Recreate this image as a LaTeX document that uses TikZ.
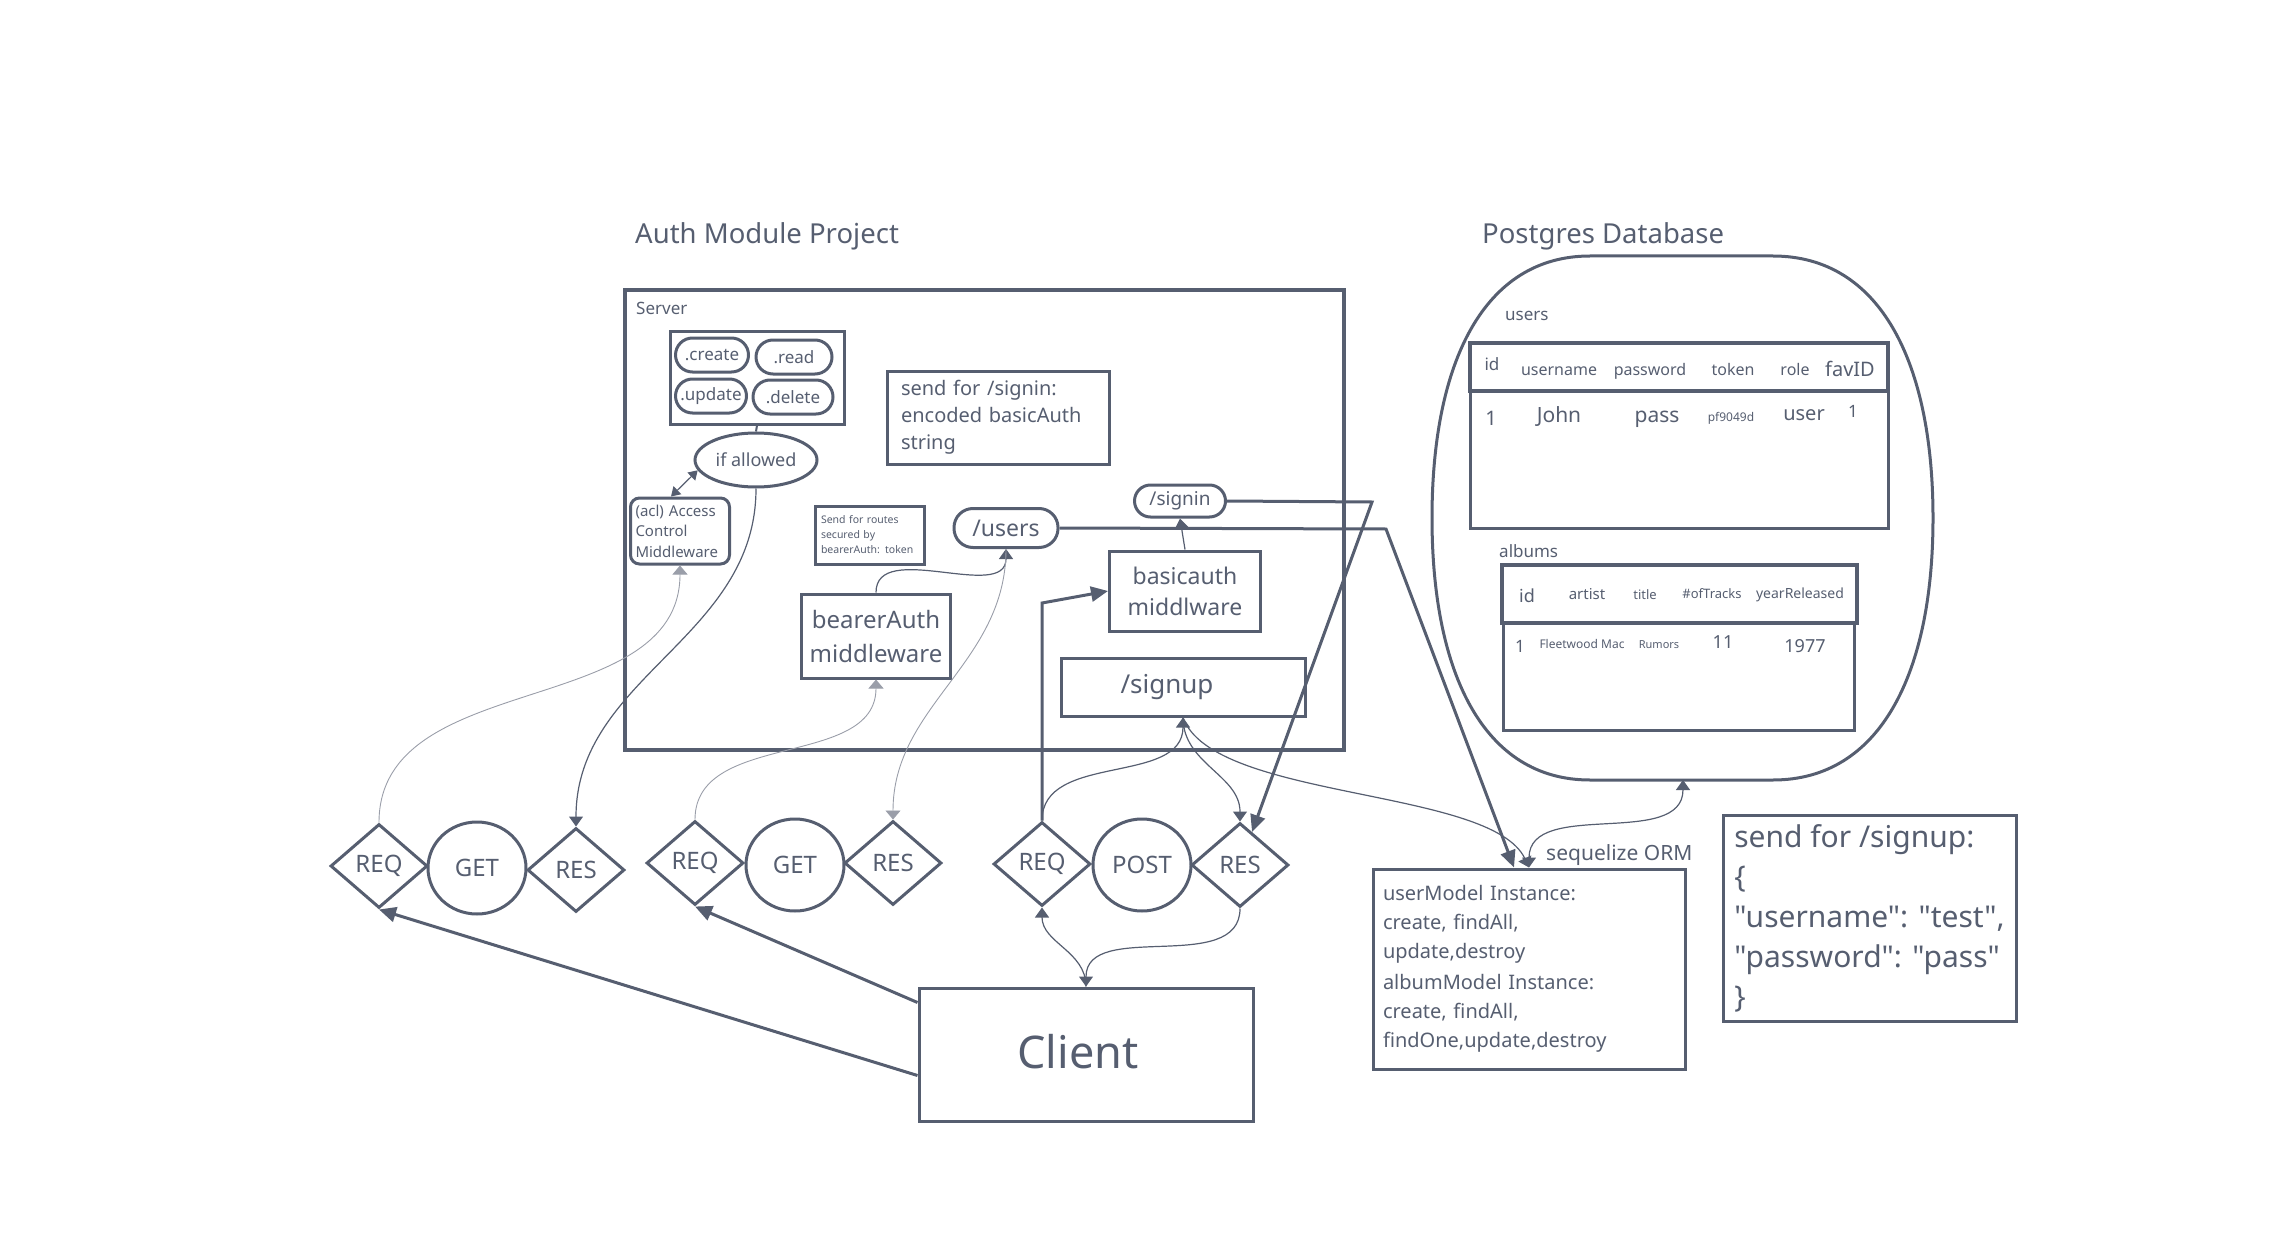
\documentclass[tikz,border=0pt]{standalone}
\usepackage{fontspec}
\setmainfont{Noto Sans}[Ligatures=TeXOff]
\usepackage{tikz}
\usetikzlibrary{arrows.meta,positioning,shapes.geometric}
\definecolor{ink}{RGB}{86,94,112}
\newcommand{\fsz}[2]{\fontsize{#1}{#2}\selectfont}
\tikzset{
  auth-box/.style={draw=ink, line width=3pt, text=ink, inner sep=0pt},
  auth-pill/.style={auth-box, rounded corners=17pt},
  auth-text/.style={text=ink, inner sep=0pt},
  auth-line/.style={draw=ink, line width=3pt},
  auth-diamond/.style={auth-box, diamond, minimum width=97pt, minimum height=84pt, font=\fsz{24}{28}},
  auth-circle/.style={auth-box, ellipse, minimum width=98pt, minimum height=92pt, font=\fsz{24}{28}},
  thick-link/.style={draw=ink, line width=3pt, -{Triangle[length=17pt,width=15pt]}},
  thin-link/.style={draw=ink, line width=1.2pt, -{Triangle[length=10pt,width=14pt]}},
  faint-link/.style={draw=ink!60, line width=0.9pt, -{Triangle[length=9pt,width=15pt]}}
}

\begin{document}
\begin{tikzpicture}[x=1pt, y=-1pt]
  \useasboundingbox (0,0) rectangle (2291,1241);

  % Titles
  \node[auth-text, anchor=base west, font=\fsz{27.5}{32}] (authtitle) at (635,244) {Auth Module Project};
  \node[auth-text, anchor=base west, font=\fsz{27.5}{32}] (dbtitle) at (1482,244) {Postgres Database};

  % Server
  \node[auth-box, line width=3.5pt, minimum width=719pt, minimum height=460pt] (server) at (984.5,520) {};
  \node[auth-text, anchor=base west, font=\fsz{17}{20}] (serverlbl) at (636,315) {Server};

  % CRUD methods
  \node[auth-box, minimum width=174pt, minimum height=93pt] (crud) at (757,377.5) {};
  \foreach \name/\x/\y/\w/\title in {create/712/355/73pt/.create, read/794/357/76pt/.read, update/711/396/71pt/.update, delete/793/397/80pt/.delete} {
    \node[auth-pill, minimum width=\w, minimum height=34pt, font=\fsz{17}{20}] (\name) at (\x,\y) {\title};
  }
  \node[auth-box, ellipse, minimum width=122pt, minimum height=54pt, font=\fsz{18}{22}] (allowed) at (756,460) {if allowed};
  \node[auth-box, rounded corners=9pt, minimum width=99pt, minimum height=66pt, text width=89pt, inner xsep=5pt, align=left, font=\fsz{15}{20.5}] (acl) at (680,531) {(acl) Access\\Control\\Middleware};

  % Notes
  \node[auth-box, minimum height=93pt, text width=194pt, inner xsep=14pt, align=left, font=\fsz{20}{27}] (signinnote) at (998,417.5) {send for /signin:\\encoded basicAuth\\string};
  \node[auth-box, minimum height=58pt, text width=97pt, inner xsep=6pt, align=left, font=\fsz{10.5}{15}] (routesnote) at (869.5,535) {Send for routes\\secured by\\bearerAuth: token};

  % Routes and middleware
  \node[auth-pill, rounded corners=19pt, minimum width=104pt, minimum height=39pt, font=\fsz{23}{28}] (users) at (1006,528) {/users};
  \node[auth-pill, rounded corners=16pt, minimum width=91pt, minimum height=32pt, font=\fsz{19}{23}] (signin) at (1180,501) {/signin};
  \node[auth-box, minimum width=151pt, minimum height=80pt, align=center, font=\fsz{23}{31}] (basic) at (1185,591) {basicauth\\middlware};
  \node[auth-box, minimum width=149pt, minimum height=84pt, align=center, font=\fsz{24}{34}] (bearer) at (876,636) {bearerAuth\\middleware};
  \node[auth-box, minimum width=244pt, minimum height=58pt, font=\fsz{26}{30}] (signup) at (1183,687) {/signup\hspace*{32pt}};

  % Requests
  \foreach \name/\x/\y/\title in {req1/379/866/REQ, res1/576/870/RES, req2/695/863/REQ, res2/893/863/RES, req3/1042/864/REQ, res3/1240/865/RES} {
    \node[auth-diamond] (\name) at (\x,\y) {\title};
  }
  \foreach \name/\x/\y/\title in {get1/477/868/GET, get2/795/865/GET, post/1142/865/POST} {
    \node[auth-circle] (\name) at (\x,\y) {\title};
  }

  % Client
  \node[auth-box, minimum width=334pt, minimum height=133pt, font=\fsz{45}{54}] (client) at (1086,1054.5) {\raisebox{6pt}{Client}\hspace*{16pt}};

  % Database
  \draw[auth-line] (1590,256) -- (1773,256) .. controls (1880,256) and (1933,362) .. (1933,518)
    .. controls (1933,674) and (1880,780) .. (1773,780) -- (1590,780)
    .. controls (1484,780) and (1432,674) .. (1432,518) .. controls (1432,362) and (1484,256) .. (1590,256) -- cycle;
  \coordinate (dbbottom) at (1683,780);

  % users table
  \node[auth-text, anchor=base west, font=\fsz{17}{20}] (userslbl) at (1505,320) {users};
  \draw[auth-line, line width=3.5pt] (1470,343) rectangle (1888,391);
  \draw[auth-line] (1470,391) rectangle (1888,528);
  \foreach \name/\x/\y/\s/\title in {uid/1492/370/17/id, uname/1559/375/16/username, upass/1650/375/16/password, utoken/1733/375/16/token, urole/1795/375/16/role, ufav/1850/376/20/favID,
      uid1/1491/425/20/1, ujohn/1559/422/21/John, upass1/1657/422/21/pass, utoken1/1731/421/12/pf9049d, urole1/1804/420/20/user, ufav1/1853/417/17/1} {
    \node[auth-text, anchor=base, font=\fsz{\s}{\s}] (\name) at (\x,\y) {\title};
  }

  % albums table
  \node[auth-text, anchor=base west, font=\fsz{17}{20}] (albumslbl) at (1499,557) {albums};
  \draw[auth-line, line width=3.5pt] (1502,565) rectangle (1857,623);
  \draw[auth-line] (1503,623) rectangle (1854,730);
  \foreach \name/\x/\y/\s/\title in {aid/1527/602/18/id, aartist/1587/599/15/artist, atitle/1645/599/13/title, atracks/1712/598/13/\#ofTracks, ayear/1800/598/14/yearReleased,
      aid1/1520/652/17/1, aartist1/1582/648/12/Fleetwood Mac, atitle1/1659/648/11/Rumors, atracks1/1723/648/18/11, ayear1/1805/652/18/1977} {
    \node[auth-text, anchor=base, font=\fsz{\s}{\s}] (\name) at (\x,\y) {\title};
  }

  % ORM
  \node[auth-box, minimum width=312pt, minimum height=200pt, text width=292pt, inner xsep=10pt, align=left, font=\fsz{20}{29}] (orm) at (1529,969) {userModel Instance:\\create, findAll,\\update,destroy\\[2pt]albumModel Instance:\\create, findAll,\\findOne,update,destroy};
  \node[auth-text, anchor=base west, font=\fsz{21}{25}] (ormlbl) at (1546,860) {sequelize ORM};

  % Signup payload
  \node[auth-box, minimum width=293pt, minimum height=206pt, inner xsep=6pt, align=left, font=\fsz{30}{40}] (signupnote) at (1869.5,918) {send for /signup:\\\{\\"username": "test",\\"password": "pass"\\\}};

  % Bends
  \coordinate (reqbend) at (1042,603);
  \coordinate (signinbend) at (1372,502);
  \coordinate (usersbend) at (1386,529);

  % Thin connectors
  \draw[auth-line, line width=2pt] (crud.south) -- (allowed.north);
  \draw[thin-link, {Triangle[length=9pt,width=11pt]}-{Triangle[length=9pt,width=11pt]}] ([xshift=-9pt]acl.north) -- (allowed.190);
  \draw[faint-link] (req1.north) to[out=90, in=-90] (acl.south);
  \draw[thin-link] (allowed.south) to[out=-90, in=90] (res1.north);
  \draw[faint-link] (req2.north) to[out=90, in=-90] (bearer.south);
  \draw[thin-link] (bearer.north) to[out=90, in=-90] (users.south);
  \draw[faint-link] (users.south) to[out=-90, in=90] (res2.north);
  \draw[thin-link] (basic.north) -- (signin.south);
  \draw[thin-link] (req3.north) to[out=90, in=-90] (signup.south);
  \draw[thin-link] (signup.south) to[out=-90, in=90] (res3.north);
  \draw[thin-link] (signup.south) to[out=-70, in=115, looseness=0.6] (orm.north);
  \draw[thin-link] (client.north) to[out=90, in=-90] (req3.south);
  \draw[thin-link] (res3.south) to[out=-90, in=90] (client.north);
  \draw[thin-link, {Triangle[length=10pt,width=14pt]}-{Triangle[length=10pt,width=14pt]}] (orm.north) to[out=90, in=-90] (dbbottom);

  % Thick connectors
  \draw[thick-link] (req3.north) -- (reqbend) -- (basic.west);
  \draw[thick-link] (signin.east) -- (signinbend) -- (res3);
  \draw[thick-link] (users.east) -- (usersbend) -- ([xshift=-15pt]orm.north);
  \draw[thick-link] ([yshift=-21pt]client.west) -- (req1.south);
  \draw[thick-link] ([yshift=52pt]client.west) -- (req2.south);
\end{tikzpicture}
\end{document}
